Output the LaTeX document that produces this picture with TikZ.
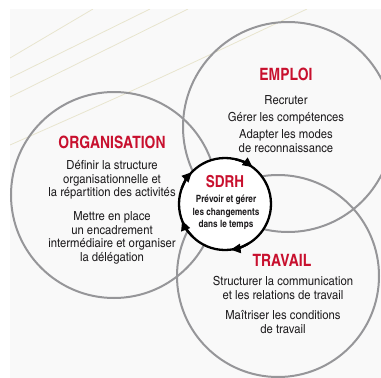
\documentclass[tikz,border=0pt]{standalone}
\usepackage{fontspec}
\setmainfont{texgyreheroscn}[Extension=.otf, UprightFont=*-regular, BoldFont=*-bold]
\newfontfamily\widebody{texgyreheroscn}[Extension=.otf, UprightFont=*-regular, BoldFont=*-bold, FakeStretch=1.1]
\usetikzlibrary{arrows.meta}
\definecolor{titlered}{RGB}{200,16,46}
\definecolor{circgray}{RGB}{150,150,153}
\definecolor{txtdark}{RGB}{30,28,30}
\definecolor{cream}{RGB}{232,229,206}
\definecolor{bggray}{RGB}{249,249,249}
\begin{document}
\begin{tikzpicture}[x=1pt,y=1pt,
  bigcircle/.style={draw=circgray, line width=2pt},
  sdrhcircle/.style={draw=black, line width=2.3pt, fill=white},
  cycarrow/.style={draw=black, line width=2.3pt, -{Triangle[length=10pt,width=9pt]}},
  decoline/.style={draw=cream, line width=0.8pt},
  title/.style={text=titlered, font=\fontsize{17}{20}\selectfont\bfseries, inner sep=0pt},
  body/.style={text=txtdark, font=\widebody\fontsize{12.5}{13.7}\selectfont, align=center, inner sep=0pt},
  sdrhtitle/.style={text=titlered, font=\fontsize{16.5}{18}\selectfont\bfseries, inner sep=0pt},
  sdrhbody/.style={text=txtdark, font=\fontsize{10}{12.4}\selectfont\bfseries, align=center, inner sep=0pt}]
\useasboundingbox (0,0) rectangle (381,-378);
\fill[white] (0,0) rectangle (381,-378);
\fill[bggray] (10,-9) rectangle (381,-378);
% decorative lines
\begin{scope}
\clip (10,-9) rectangle (381,-378);
\coordinate (l1a) at (93,-9);  \coordinate (l1b) at (10,-58);
\coordinate (l2a) at (150,-9); \coordinate (l2b) at (10,-78);
\coordinate (l3a) at (188,-9); \coordinate (l3b) at (10,-97);
\coordinate (l4a) at (307,-9); \coordinate (l4m) at (150,-83); \coordinate (l4b) at (10,-145);
\draw[decoline] (l1a) -- (l1b);
\draw[decoline] (l2a) -- (l2b);
\draw[decoline] (l3a) -- (l3b);
\draw[decoline] (l4a) .. controls (l4m) .. (l4b);
\end{scope}
% big circles
\coordinate (ce) at (288,-127);
\coordinate (co) at (114,-195);
\coordinate (ct) at (278,-276);
\coordinate (cs) at (225,-204);
\draw[bigcircle] (ce) circle[radius=105];
\draw[bigcircle] (co) circle[radius=103];
\draw[bigcircle] (ct) circle[radius=101];
% SDRH cycle
\draw[sdrhcircle] (cs) circle[radius=46];
\foreach \a in {53,136,201,277}{
  \draw[cycarrow] (cs) ++(\a+24:46) arc[start angle=\a+24, end angle=\a, radius=46];
}
% texts
\node[title] (emploi) at (286,-74) {EMPLOI};
\node[body, anchor=north] (emploitext) at (286,-95) {Recruter\\[3.4pt]Gérer les compétences\\[3.4pt]Adapter les modes\\de reconnaissance};
\node[title] (orga) at (112,-142) {ORGANISATION};
\node[body, anchor=north] (orgatext) at (112,-160) {Définir la structure\\organisationnelle et\\la répartition des activités\\[10pt]Mettre en place\\un encadrement\\intermédiaire et organiser\\la délégation};
\node[sdrhtitle] (sdrh) at (225,-182) {SDRH};
\node[sdrhbody, anchor=north] (sdrhtext) at (226,-195) {Prévoir et gérer\\les changements\\dans le temps};
\node[title] (travail) at (282,-260) {TRAVAIL};
\node[body, anchor=north] (travailtext) at (283,-276) {Structurer la communication\\et les relations de travail\\[7pt]Maîtriser les conditions\\de travail};
\end{tikzpicture}
\end{document}
